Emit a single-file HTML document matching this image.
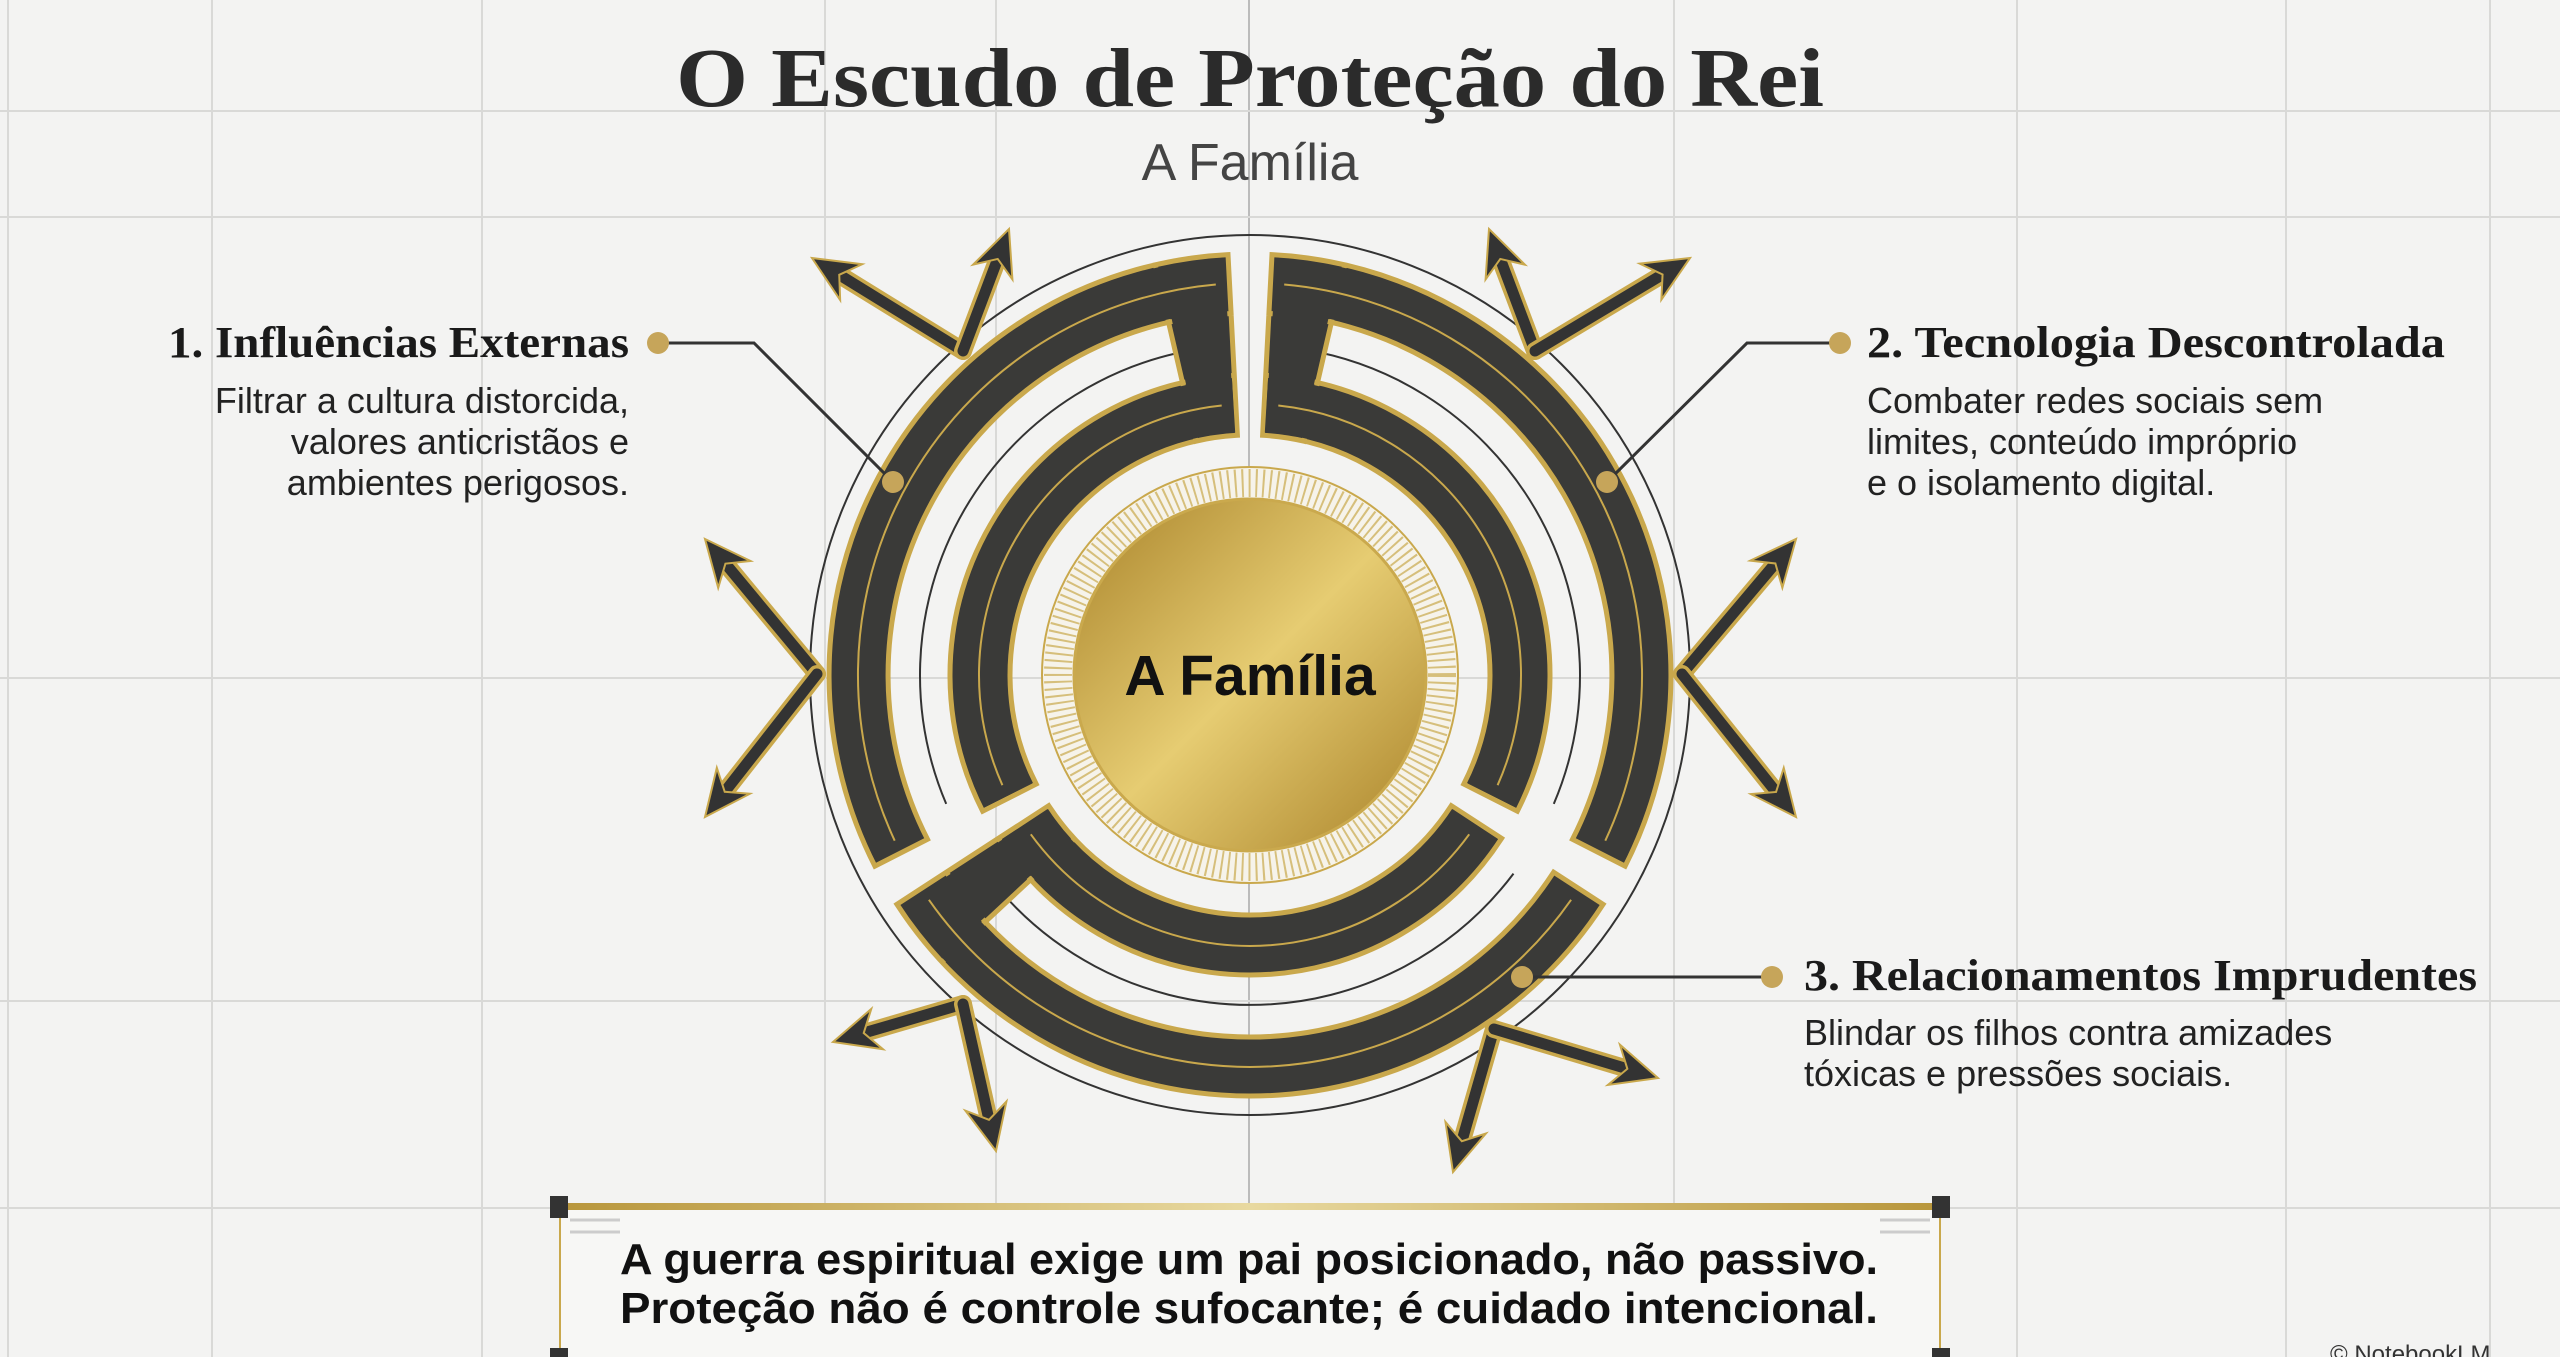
<!DOCTYPE html>
<html><head><meta charset="utf-8"><style>
html,body{margin:0;padding:0;background:#f3f3f2;}
svg{display:block}
</style></head><body>
<svg id="s" width="2560" height="1357" viewBox="0 0 2560 1357" xmlns="http://www.w3.org/2000/svg">
<defs>
<linearGradient id="gold" x1="0" y1="0" x2="1" y2="1">
<stop offset="0" stop-color="#a9832a"/><stop offset="0.5" stop-color="#e6cc72"/><stop offset="1" stop-color="#a98229"/>
</linearGradient>
<linearGradient id="bar" x1="0" x2="1"><stop offset="0" stop-color="#b8963c"/><stop offset="0.5" stop-color="#e8d9a0"/><stop offset="1" stop-color="#b8963c"/></linearGradient>
</defs>
<rect width="2560" height="1357" fill="#f3f3f2"/>
<g stroke="#d9d9d7" stroke-width="2">
<line x1="8" y1="0" x2="8" y2="1357"/><line x1="212" y1="0" x2="212" y2="1357"/><line x1="482" y1="0" x2="482" y2="1357"/>
<line x1="825" y1="0" x2="825" y2="1357"/><line x1="996" y1="0" x2="996" y2="1357"/><line x1="1249" y1="0" x2="1249" y2="1357" stroke="#bbb"/>
<line x1="1674" y1="0" x2="1674" y2="1357"/><line x1="2017" y1="0" x2="2017" y2="1357"/><line x1="2286" y1="0" x2="2286" y2="1357"/><line x1="2490" y1="0" x2="2490" y2="1357"/>
<line x1="0" y1="111" x2="2560" y2="111"/><line x1="0" y1="217" x2="2560" y2="217"/><line x1="0" y1="678" x2="2560" y2="678"/>
<line x1="0" y1="1001" x2="2560" y2="1001"/><line x1="0" y1="1208" x2="2560" y2="1208"/>
</g>
<text x="1250" y="106" text-anchor="middle" font-family="Liberation Serif,serif" font-weight="bold" font-size="84" fill="#2b2b2b" textLength="1148" lengthAdjust="spacingAndGlyphs">O Escudo de Proteção do Rei</text>
<text x="1250" y="180" text-anchor="middle" font-family="Liberation Sans,sans-serif" font-size="52" fill="#444">A Família</text>

<circle cx="1250" cy="675" r="440" fill="none" stroke="#333" stroke-width="2"/>
<g id="shield"></g>
<g id="arrows"></g>

<circle cx="1250" cy="675" r="208" fill="#f6f3ea" stroke="#c9a84c" stroke-width="2"/>
<circle cx="1250" cy="675" r="192" fill="none" stroke="#c9a84c" stroke-width="28" stroke-dasharray="2 5" opacity="0.7"/>
<circle cx="1250" cy="675" r="176" fill="url(#gold)" stroke="#caa94d" stroke-width="3"/>
<text x="1250" y="695" text-anchor="middle" font-family="Liberation Sans,sans-serif" font-weight="bold" font-size="57" fill="#111">A Família</text>

<g fill="none" stroke="#333" stroke-width="3">
<polyline points="658,343 754,343 893,482"/>
<polyline points="1840,343 1747,343 1607,482"/>
<polyline points="1772,977 1522,977"/>
</g>
<g fill="#c6a55a"><circle cx="658" cy="343" r="11"/><circle cx="893" cy="482" r="11"/><circle cx="1840" cy="343" r="11"/><circle cx="1607" cy="482" r="11"/><circle cx="1772" cy="977" r="11"/><circle cx="1522" cy="977" r="11"/></g>

<g font-family="Liberation Serif,serif" font-weight="bold" font-size="44" fill="#1a1a1a">
<text x="629" y="357" text-anchor="end" textLength="461" lengthAdjust="spacingAndGlyphs">1. Influências Externas</text>
<text x="1867" y="357" textLength="578" lengthAdjust="spacingAndGlyphs">2. Tecnologia Descontrolada</text>
<text x="1804" y="990" textLength="673" lengthAdjust="spacingAndGlyphs">3. Relacionamentos Imprudentes</text>
</g>
<g font-family="Liberation Sans,sans-serif" font-size="36" fill="#222">
<text x="629" y="413" text-anchor="end">Filtrar a cultura distorcida,</text>
<text x="629" y="454" text-anchor="end">valores anticristãos e</text>
<text x="629" y="495" text-anchor="end">ambientes perigosos.</text>
<text x="1867" y="413">Combater redes sociais sem</text>
<text x="1867" y="454">limites, conteúdo impróprio</text>
<text x="1867" y="495">e o isolamento digital.</text>
<text x="1804" y="1045">Blindar os filhos contra amizades</text>
<text x="1804" y="1086">tóxicas e pressões sociais.</text>
</g>

<rect x="560" y="1207" width="1380" height="160" fill="#f7f7f5" stroke="#c9a84c" stroke-width="2"/>
<rect x="560" y="1203" width="1380" height="7" fill="url(#bar)"/>
<g stroke="#ccc" stroke-width="3"><line x1="570" y1="1220" x2="620" y2="1220"/><line x1="570" y1="1232" x2="620" y2="1232"/><line x1="1880" y1="1220" x2="1930" y2="1220"/><line x1="1880" y1="1232" x2="1930" y2="1232"/></g>
<rect x="550" y="1196" width="18" height="22" fill="#333"/><rect x="1932" y="1196" width="18" height="22" fill="#333"/>
<rect x="550" y="1348" width="18" height="12" fill="#333"/><rect x="1932" y="1348" width="18" height="12" fill="#333"/>
<g font-family="Liberation Sans,sans-serif" font-weight="bold" font-size="44" fill="#111">
<text x="620" y="1274" textLength="1258" lengthAdjust="spacingAndGlyphs">A guerra espiritual exige um pai posicionado, não passivo.</text>
<text x="620" y="1323" textLength="1258" lengthAdjust="spacingAndGlyphs">Proteção não é controle sufocante; é cuidado intencional.</text>
</g>
<text x="2330" y="1362" font-family="Liberation Sans,sans-serif" font-size="24" fill="#333">© NotebookLM</text>
</svg>
<script>
(function(){
var cx=1250,cy=675;
function P(r,a){a=a*Math.PI/180;return (cx+r*Math.cos(a)).toFixed(1)+","+(cy+r*Math.sin(a)).toFixed(1);}
function ann(r1,r2,a1,a2){var l=(a2-a1)>180?1:0;
return "M"+P(r2,a1)+" A"+r2+" "+r2+" 0 "+l+" 1 "+P(r2,a2)+" L"+P(r1,a2)+" A"+r1+" "+r1+" 0 "+l+" 0 "+P(r1,a1)+" Z";}
function arc(r,a1,a2){var l=(a2-a1)>180?1:0;return "M"+P(r,a1)+" A"+r+" "+r+" 0 "+l+" 1 "+P(r,a2);}
var g=document.getElementById("shield"),h="";
var secs=[[153,267,267],[-87,27,-87],[33,147,147]];
secs.forEach(function(s){
 var a1=s[0],a2=s[1],c=s[2];
 h+='<path d="'+arc(330,a1+4,a2-4)+'" fill="none" stroke="#333" stroke-width="2"/>';
 var ca1=c==a2?a2-10:a1, ca2=c==a2?a2:a1+10;
 var d=ann(362,421,a1,a2)+" "+ann(240,300,a1,a2)+" "+ann(240,421,ca1,ca2);
 h+='<path d="'+d+'" fill="#3a3a38" stroke="#c9a84c" stroke-width="5"/>';
 h+='<path d="'+ann(365,418,a1+0.5,a2-0.5)+" "+ann(243,297,a1+0.5,a2-0.5)+" "+ann(243,418,ca1+0.6,ca2-0.6)+'" fill="#3a3a38" stroke="none"/>';
 h+='<path d="'+arc(392,a1+2,a2-2)+'" fill="none" stroke="#c9a84c" stroke-width="2"/>';
 h+='<path d="'+arc(271,a1+3,a2-3)+'" fill="none" stroke="#c9a84c" stroke-width="2"/>';
});
g.innerHTML=h;
var A=[[[963,351],[812,258],[1009,229]],[[1535,351],[1489,229],[1690,258]],[[817,674],[705,539],[705,817]],
[[1682,674],[1796,539],[1796,817]],[[963,1004],[833,1042],[996,1151]],[[1494,1029],[1453,1172],[1658,1078]]];
var ah="";
A.forEach(function(t){
 var v=t[0];
 [t[1],t[2]].forEach(function(e){
  var dx=e[0]-v[0],dy=e[1]-v[1],L=Math.hypot(dx,dy),ux=dx/L,uy=dy/L,px=-uy,py=ux;
  var bx=e[0]-ux*34,by=e[1]-uy*34;
  ah+='<line x1="'+v[0]+'" y1="'+v[1]+'" x2="'+bx+'" y2="'+by+'" stroke="#c9a84c" stroke-width="18" stroke-linecap="round"/>';
  ah+='<line x1="'+v[0]+'" y1="'+v[1]+'" x2="'+bx+'" y2="'+by+'" stroke="#333" stroke-width="11" stroke-linecap="round"/>';
  var hb=[e[0]-ux*46+px*21,e[1]-uy*46+py*21],hc=[e[0]-ux*32,e[1]-uy*32],hd=[e[0]-ux*46-px*21,e[1]-uy*46-py*21];
  ah+='<polygon points="'+e.join(",")+" "+hb.join(",")+" "+hc.join(",")+" "+hd.join(",")+'" fill="#333" stroke="#c9a84c" stroke-width="2"/>';
 });
});
document.getElementById("arrows").innerHTML=ah;
})();
</script>
</body></html>
